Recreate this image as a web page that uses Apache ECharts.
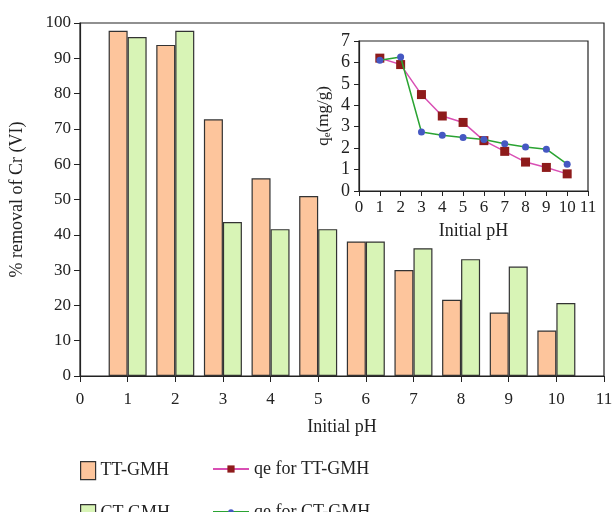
<!DOCTYPE html>
<html>
<head>
<meta charset="utf-8">
<script src="https://cdn.jsdelivr.net/npm/echarts@6/dist/echarts.min.js"></script>
<style>
  html, body { margin: 0; padding: 0; background: #fff; }
  #chart { width: 616px; height: 512px; }
</style>
</head>
<body>
<div id="chart"></div>
<script>
// pH categories for the bar chart (0..11, bars at 1..10)
const phLabels = ["0", "1", "2", "3", "4", "5", "6", "7", "8", "9", "10", "11"];
const removalTT = [null, 97.8, 93.8, 72.7, 56.0, 51.0, 38.1, 30.0, 21.6, 18.0, 12.9, null];
const removalCT = [null, 96.0, 97.8, 43.6, 41.6, 41.6, 38.1, 36.2, 33.1, 31.0, 20.7, null];

// inset: adsorption capacity qe
const phValues = [1, 2, 3, 4, 5, 6, 7, 8, 9, 10];
const qeTT = [6.2, 5.9, 4.5, 3.5, 3.2, 2.35, 1.85, 1.35, 1.1, 0.8];
const qeCT = [6.1, 6.25, 2.75, 2.6, 2.5, 2.4, 2.2, 2.05, 1.95, 1.25];

const font = "'Liberation Serif', 'DejaVu Serif', serif";
const axisLine = { lineStyle: { color: "#222", width: 1.2 } };
const legendText = { fontSize: 18, color: "#222", fontFamily: font };

const chart = echarts.init(document.getElementById("chart"));

const option = {
  animation: false,
  textStyle: { fontFamily: font, color: "#222" },
  grid: [
    { left: 79, right: 12, top: 23, bottom: 136, show: true, borderColor: "#222", borderWidth: 1.2 },
    { left: 359, right: 28, top: 41, bottom: 321, show: true, borderColor: "#222", borderWidth: 1.2 }
  ],
  xAxis: [
    {
      gridIndex: 0,
      type: "category",
      data: phLabels,
      boundaryGap: false,
      axisLine: axisLine,
      axisTick: { alignWithLabel: true, length: 6, lineStyle: { color: "#222" } },
      axisLabel: { fontSize: 17, color: "#222", margin: 15, fontFamily: font },
      name: "Initial pH",
      nameLocation: "middle",
      nameGap: 42,
      nameTextStyle: { fontSize: 18, color: "#222", fontFamily: font }
    },
    {
      gridIndex: 1,
      type: "value",
      min: 0,
      max: 11,
      interval: 1,
      splitLine: { show: false },
      axisLine: axisLine,
      axisTick: { length: 5, lineStyle: { color: "#222" } },
      axisLabel: { fontSize: 17, color: "#222", margin: 8, fontFamily: font },
      name: "Initial pH",
      nameLocation: "middle",
      nameGap: 31,
      nameTextStyle: { fontSize: 18, color: "#222", fontFamily: font }
    }
  ],
  yAxis: [
    {
      gridIndex: 0,
      type: "value",
      min: 0,
      max: 100,
      interval: 10,
      splitLine: { show: false },
      axisLine: { show: true, lineStyle: { color: "#222", width: 1.2 } },
      axisTick: { show: true, length: 6, lineStyle: { color: "#222" } },
      axisLabel: { fontSize: 17, color: "#222", margin: 9, fontFamily: font },
      name: "% removal of Cr (VI)",
      nameLocation: "middle",
      nameGap: 54,
      nameTextStyle: { fontSize: 18, color: "#222", fontFamily: font }
    },
    {
      gridIndex: 1,
      type: "value",
      min: 0,
      max: 7,
      interval: 1,
      splitLine: { show: false },
      axisLine: { show: true, lineStyle: { color: "#222", width: 1.2 } },
      axisTick: { show: true, length: 5, lineStyle: { color: "#222" } },
      axisLabel: { fontSize: 18, color: "#222", margin: 9, fontFamily: font },
      name: "{a|q}{b|e}{a|(mg/g)}",
      nameLocation: "middle",
      nameGap: 26,
      nameTextStyle: {
        fontFamily: font,
        rich: {
          a: { fontSize: 17, color: "#222", fontFamily: font },
          b: { fontSize: 11, color: "#222", fontFamily: font, padding: [8, 0, 0, 0] }
        }
      }
    }
  ],
  legend: [
    {
      left: 75, top: 456, itemWidth: 15, itemHeight: 18, icon: "rect",
      itemStyle: { borderColor: "#333", borderWidth: 1.2 },
      data: ["TT-GMH"], textStyle: legendText
    },
    {
      left: 75, top: 499, itemWidth: 15, itemHeight: 18, icon: "rect",
      itemStyle: { borderColor: "#333", borderWidth: 1.2 },
      data: ["CT-GMH"], textStyle: legendText
    },
    {
      left: 207, top: 455, itemWidth: 36, itemHeight: 9,
      data: ["qe for TT-GMH"], textStyle: legendText
    },
    {
      left: 207, top: 498, itemWidth: 36, itemHeight: 7,
      data: ["qe for CT-GMH"], textStyle: legendText
    }
  ],
  series: [
    {
      name: "TT-GMH",
      type: "bar",
      xAxisIndex: 0,
      yAxisIndex: 0,
      data: removalTT,
      barWidth: 19,
      barGap: "0%",
      itemStyle: { color: "#fdc59c", borderColor: "#333", borderWidth: 1.2 }
    },
    {
      name: "CT-GMH",
      type: "bar",
      xAxisIndex: 0,
      yAxisIndex: 0,
      data: removalCT,
      barWidth: 19,
      barGap: "0%",
      itemStyle: { color: "#d8f4b6", borderColor: "#333", borderWidth: 1.2 }
    },
    {
      name: "qe for TT-GMH",
      type: "line",
      xAxisIndex: 1,
      yAxisIndex: 1,
      data: phValues.map((p, i) => [p, qeTT[i]]),
      symbol: "rect",
      symbolSize: 9,
      lineStyle: { color: "#d94fb4", width: 1.5 },
      itemStyle: { color: "#8e1b1b" },
      z: 3
    },
    {
      name: "qe for CT-GMH",
      type: "line",
      xAxisIndex: 1,
      yAxisIndex: 1,
      data: phValues.map((p, i) => [p, qeCT[i]]),
      symbol: "circle",
      symbolSize: 7,
      lineStyle: { color: "#2aa332", width: 1.5 },
      itemStyle: { color: "#4558c2" },
      z: 4
    }
  ]
};

chart.setOption(option);
</script>
</body>
</html>
